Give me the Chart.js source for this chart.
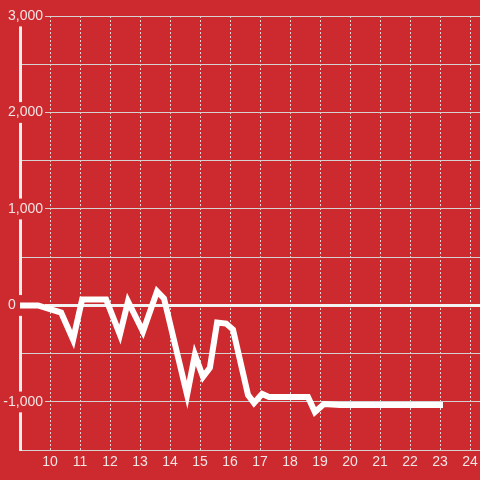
<!DOCTYPE html>
<html>
<head>
    <script src="https://cdn.jsdelivr.net/npm/chart.js"></script>
    <style>
        body { margin: 0; background: #cc2a2e; }
        canvas { display: block; background: #cc2a2e; }
    </style>
</head>
<body>
    <canvas id="chart" width="480" height="480"></canvas>
    <script>
        const xValues = [8.9, 9.6, 10.37, 10.77, 11.07, 11.87, 12.33, 12.6, 13.1, 13.57, 13.8, 14.57, 14.83, 15.1, 15.33, 15.57, 15.87, 16.1, 16.6, 16.8, 17.07, 17.3, 18.6, 18.83, 19.13, 19.67, 23.1];
        const yValues = [0, 0, -73, -354, 62, 62, -302, 42, -271, 146, 73, -927, -510, -740, -646, -177, -188, -250, -927, -1010, -917, -948, -948, -1104, -1021, -1031, -1031];
        const xTicks = [10, 11, 12, 13, 14, 15, 16, 17, 18, 19, 20, 21, 22, 23, 24];
        const yLabelled = [-1000, 0, 1000, 2000, 3000];

        const bg = '#cc2a2e';
        const textColor = '#f4e4e4';

        new Chart(document.getElementById('chart'), {
            type: 'line',
            data: {
                datasets: [{
                    data: xValues.map((x, i) => ({ x: x, y: yValues[i] })),
                    borderColor: '#ffffff',
                    borderWidth: 6,
                    pointRadius: 0,
                    tension: 0
                }]
            },
            options: {
                responsive: false,
                animation: false,
                layout: { padding: { top: 16, bottom: 5, left: 0, right: 0 } },
                plugins: { legend: { display: false }, tooltip: { enabled: false } },
                scales: {
                    x: {
                        type: 'linear',
                        min: 9,
                        max: 24.333,
                        afterBuildTicks: (scale) => {
                            scale.ticks = xTicks.map(v => ({ value: v }));
                        },
                        afterFit: (scale) => { scale.paddingRight = 0; scale.paddingLeft = 0; },
                        grid: {
                            drawTicks: false,
                            color: '#e6d2d2',
                            lineWidth: 1
                        },
                        border: { display: false, dash: [2, 2] },
                        ticks: {
                            padding: 4,
                            color: textColor,
                            font: { family: 'Liberation Sans', size: 14 },
                            maxRotation: 0,
                            callback: (v) => String(v)
                        }
                    },
                    y: {
                        min: -1500,
                        max: 3000,
                        afterFit: (scale) => { scale.width = 20; },
                        border: { display: true, color: '#eeeeee', width: 3 },
                        grid: {
                            drawTicks: false,
                            color: (ctx) => ctx.tick && ctx.tick.value === 0 ? '#f2f2f2' : '#d6d0d0',
                            lineWidth: (ctx) => ctx.tick && ctx.tick.value === 0 ? 3 : 1
                        },
                        ticks: {
                            stepSize: 500,
                            mirror: true,
                            crossAlign: 'far',
                            padding: -16.7,
                            color: textColor,
                            font: { family: 'Liberation Sans', size: 14 },
                            showLabelBackdrop: (ctx) => yLabelled.includes(ctx.tick.value),
                            backdropColor: bg,
                            backdropPadding: 2,
                            callback: (v) => {
                                if (v === 0) return '0' + ' '.repeat(7);
                                return yLabelled.includes(v) ? v.toLocaleString('en-US') : '';
                            }
                        }
                    }
                }
            }
        });
    </script>
</body>
</html>
